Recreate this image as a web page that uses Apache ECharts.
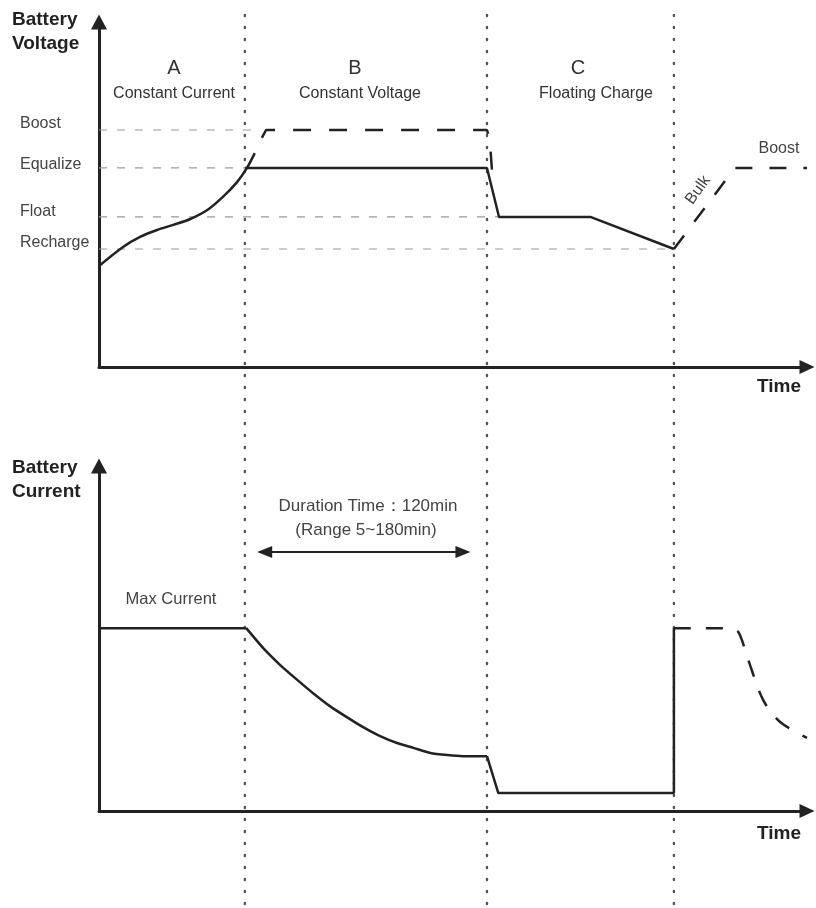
<!DOCTYPE html>
<html>
<head>
<meta charset="utf-8">
<script src="https://cdn.jsdelivr.net/npm/echarts@6/dist/echarts.min.js"></script>
<style>
html,body{margin:0;padding:0;background:#fff;}
#chart{width:816px;height:908px;}
</style>
</head>
<body>
<div id="chart"></div>
<script>
// time axis 0..100, voltage / current 0..100 (schematic units)
const phaseBounds = [20.6, 54.8, 81.2];
const phaseLetters = ['A', 'B', 'C'];
const phaseNames = ['Constant Current', 'Constant Voltage', 'Floating Charge'];

const levelNames = ['Boost', 'Equalize', 'Float', 'Recharge'];
const levelValues = [68.7, 57.7, 43.5, 34.2];
const levelEnds = [22.0, 20.6, 56.5, 81.2];

const vRise = [[0, 29.3], [3.4, 34.8], [5.8, 37.7], [8.2, 39.7], [10.5, 41.2], [12.9, 42.9], [15.3, 45.5], [17.5, 49.3], [19.5, 53.6], [20.9, 57.7], [22.0, 62.0]];
const vHold = [[20.6, 57.7], [54.8, 57.7], [56.5, 43.5], [69.4, 43.5], [81.2, 34.2]];
const vBoost = [[23.0, 66.4], [23.6, 68.7], [54.8, 68.7], [55.2, 65.8], [55.6, 54.2]];
const vBulk = [[81.2, 34.2], [89.8, 57.7], [100, 57.7]];

const iMax = [[0, 53.0], [20.8, 53.0]];
const iDecay = [[20.8, 53.0], [23.2, 47.2], [25.6, 42.3], [28.0, 38.0], [30.2, 34.2], [32.6, 30.4], [35.0, 27.2], [37.3, 24.3], [39.7, 21.7], [42.1, 19.7], [44.4, 18.3], [46.8, 16.8], [49.2, 16.2], [51.4, 15.9], [54.8, 15.9]];
const iFloat = [[54.8, 15.9], [56.4, 5.2], [81.2, 5.2], [81.2, 53.0]];
const iNext = [[81.2, 53.0], [89.1, 53.0], [90.3, 51.9], [91.7, 43.8], [93.8, 32.2], [96.2, 25.8], [100, 21.2]];
const durationSpan = [23.4, 51.4];
const durationLevel = 75.1;

const chart = echarts.init(document.getElementById('chart'));

const ink = '#222';
const font = '"Liberation Sans", Arial, sans-serif';

function axisPair(grid) {
    return {
        x: {
            type: 'value', gridIndex: grid, min: 0, max: 100,
            axisLine: {show: true, symbol: ['none', 'triangle'], symbolSize: [14, 15], lineStyle: {color: ink, width: 3}},
            axisTick: {show: false}, axisLabel: {show: false}, splitLine: {show: false}
        },
        y: {
            type: 'value', gridIndex: grid, min: 0, max: 100,
            axisLine: {show: true, symbol: ['none', 'triangle'], symbolSize: [16, 15], lineStyle: {color: ink, width: 3}},
            axisTick: {show: false}, axisLabel: {show: false}, splitLine: {show: false}
        }
    };
}
const a0 = axisPair(0), a1 = axisPair(1);

function line(data, opts) {
    return Object.assign({
        type: 'line', data: data, showSymbol: false, symbol: 'none', silent: true,
        lineStyle: {color: ink, width: 2.5}
    }, opts);
}

const series = [];

// reference levels
levelNames.forEach(function (n, i) {
    series.push(line([[0, levelValues[i]], [levelEnds[i], levelValues[i]]], {
        xAxisIndex: 0, yAxisIndex: 0, z: 1,
        lineStyle: {color: '#9a9a9a', width: 1.2, type: [8, 10]}
    }));
});

series.push(line(vRise, {xAxisIndex: 0, yAxisIndex: 0, smooth: 0.3}));
series.push(line(vHold, {xAxisIndex: 0, yAxisIndex: 0}));
series.push(line(vBoost, {xAxisIndex: 0, yAxisIndex: 0, lineStyle: {color: ink, width: 2.5, type: [18, 18]}}));
series.push(line(vBulk, {xAxisIndex: 0, yAxisIndex: 0, lineStyle: {color: ink, width: 2.5, type: [17, 17]}}));

series.push(line(iMax, {xAxisIndex: 1, yAxisIndex: 1}));
series.push(line(iDecay, {xAxisIndex: 1, yAxisIndex: 1, smooth: 0.2}));
series.push(line(iFloat, {xAxisIndex: 1, yAxisIndex: 1}));
series.push(line(iNext, {xAxisIndex: 1, yAxisIndex: 1, smooth: 0.3, lineStyle: {color: ink, width: 2.5, type: [17, 15]}}));

// duration arrow
series.push(line([], {
    xAxisIndex: 1, yAxisIndex: 1,
    markLine: {
        silent: true, symbol: ['triangle', 'triangle'], symbolSize: [12, 15],
        label: {show: false},
        lineStyle: {color: ink, width: 2, type: 'solid'},
        data: [[{coord: [durationSpan[0], durationLevel]}, {coord: [durationSpan[1], durationLevel]}]]
    }
}));

// phase boundaries (dotted, full height)
phaseBounds.forEach(function (b) {
    series.push(line([[b, 0], [b, 1]], {
        xAxisIndex: 2, yAxisIndex: 2, z: 0,
        lineStyle: {color: '#555', width: 2.4, type: [1, 11], cap: 'round'}
    }));
});

function txt(x, y, s, size, opts) {
    return {
        type: 'text', x: x, y: y, silent: true,
        rotation: (opts && opts.rotation) || 0,
        style: {
            text: s,
            font: ((opts && opts.bold) ? 'bold ' : '') + size + 'px ' + font,
            fill: (opts && opts.fill) || '#333',
            align: (opts && opts.align) || 'center',
            verticalAlign: 'middle',
            textAlign: (opts && opts.align) || 'center',
            textVerticalAlign: 'middle'
        }
    };
}

const phaseCenters = [[174, 174], [355, 360], [578, 596]];
const texts = [
    txt(12, 20, 'Battery', 19, {bold: true, align: 'left', fill: '#222'}),
    txt(12, 44, 'Voltage', 19, {bold: true, align: 'left', fill: '#222'}),
    txt(12, 468, 'Battery', 19, {bold: true, align: 'left', fill: '#222'}),
    txt(12, 492, 'Current', 19, {bold: true, align: 'left', fill: '#222'}),
    txt(779, 387, 'Time', 19, {bold: true, fill: '#222'}),
    txt(779, 834, 'Time', 19, {bold: true, fill: '#222'}),
    txt(20, 124, levelNames[0], 16, {align: 'left', fill: '#444'}),
    txt(20, 165, levelNames[1], 16, {align: 'left', fill: '#444'}),
    txt(20, 212, levelNames[2], 16, {align: 'left', fill: '#444'}),
    txt(20, 243, levelNames[3], 16, {align: 'left', fill: '#444'}),
    txt(779, 149, 'Boost', 16, {fill: '#444'}),
    txt(698, 190, 'Bulk', 16, {fill: '#444', rotation: 0.95}),
    txt(368, 506, 'Duration Time：120min', 17, {fill: '#444'}),
    txt(366, 530, '(Range 5~180min)', 17, {fill: '#444'}),
    txt(171, 599, 'Max Current', 16.5, {fill: '#444'})
];
phaseLetters.forEach(function (l, i) {
    texts.push(txt(phaseCenters[i][0], 68, l, 20, {fill: '#333'}));
    texts.push(txt(phaseCenters[i][1], 94, phaseNames[i], 16, {fill: '#333'}));
});

const option = {
    backgroundColor: '#fff',
    animation: false,
    grid: [
        {left: 99, top: 22, width: 708, height: 345},
        {left: 99, top: 466, width: 708, height: 345},
        {left: 99, top: 15, width: 708, height: 893}
    ],
    xAxis: [a0.x, a1.x, {type: 'value', gridIndex: 2, min: 0, max: 100, show: false}],
    yAxis: [a0.y, a1.y, {type: 'value', gridIndex: 2, min: 0, max: 1, inverse: true, show: false}],
    series: series,
    graphic: texts
};

chart.setOption(option);

window.addEventListener('resize', function () {
    chart.resize();
});
</script>
</body>
</html>
